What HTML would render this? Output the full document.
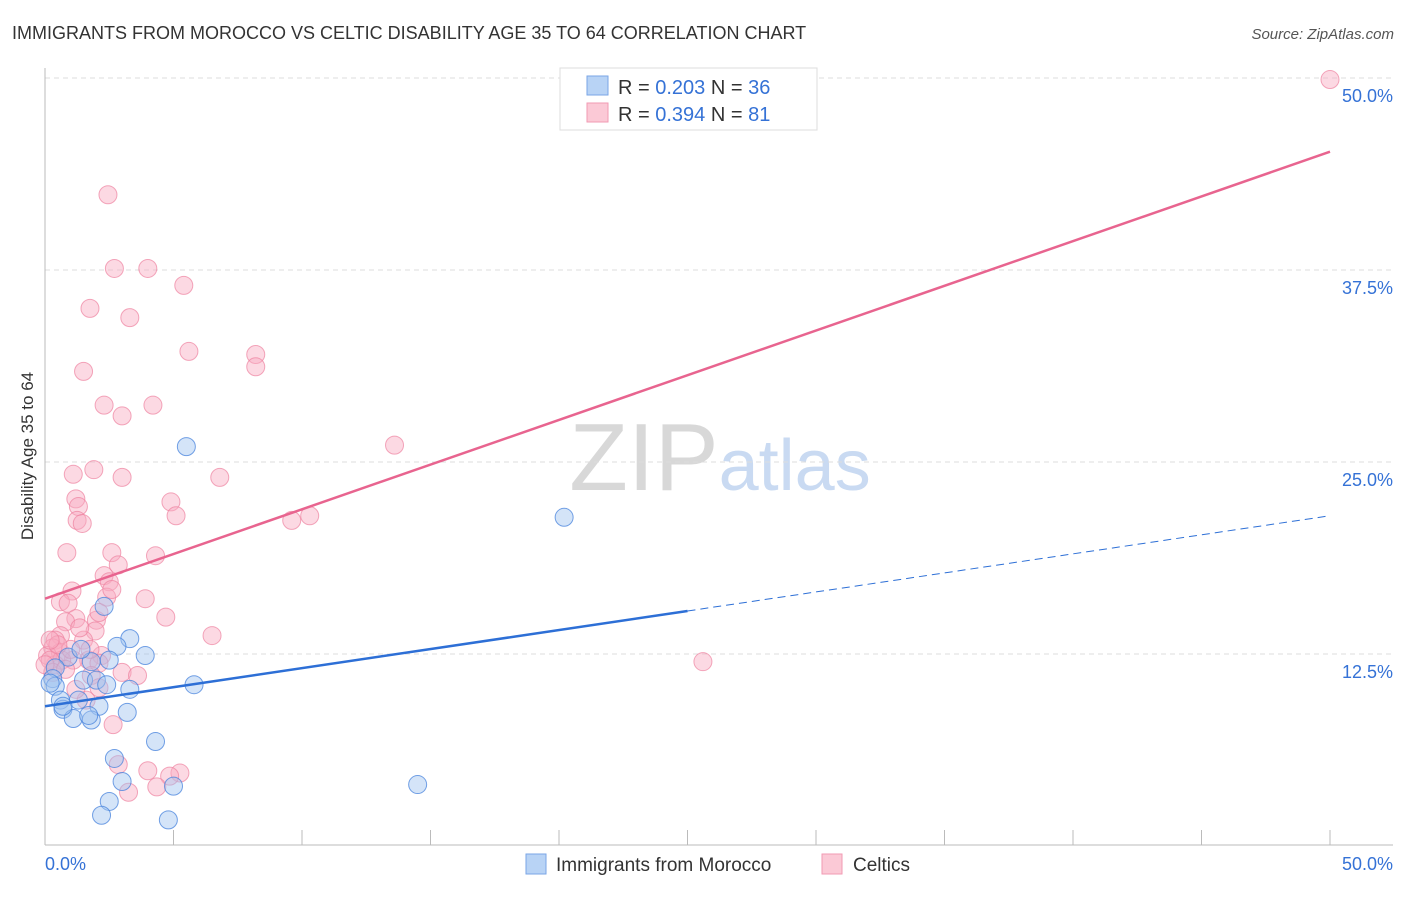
<!DOCTYPE html>
<html><head><meta charset="utf-8"><style>
body{margin:0;background:#fff;font-family:"Liberation Sans",sans-serif;}
svg text{font-family:"Liberation Sans",sans-serif;}
</style></head><body>
<svg id="chart" width="1406" height="892" xmlns="http://www.w3.org/2000/svg">
<text x="12" y="39" font-size="18" fill="#333">IMMIGRANTS FROM MOROCCO VS CELTIC DISABILITY AGE 35 TO 64 CORRELATION CHART</text>
<text x="1394" y="39" font-size="15" fill="#555" text-anchor="end" font-style="italic">Source: ZipAtlas.com</text>
<text transform="translate(33,456) rotate(-90)" font-size="17" fill="#333" text-anchor="middle">Disability Age 35 to 64</text>
<text x="720" y="490" font-size="96" text-anchor="middle" fill="#ddd" font-family="Liberation Serif"><tspan fill="#d8d8d8">ZIP</tspan><tspan fill="#c9daf2" font-family="Liberation Sans" font-size="72">atlas</tspan></text>
<g id="grid"></g><g id="axes"></g><g id="pts"></g><g id="lines"></g>
<g>
<rect x="560" y="68" width="257" height="62" fill="#fff" stroke="#ddd"/>
<rect x="587" y="76" width="21" height="19" fill="#b8d3f5" stroke="#7aa6e6"/>
<rect x="587" y="103" width="21" height="19" fill="#fbc9d6" stroke="#f29ab3"/>
<text x="618" y="94" font-size="20" fill="#333">R = <tspan fill="#3572d6">0.203</tspan>   N = <tspan fill="#3572d6">36</tspan></text>
<text x="618" y="121" font-size="20" fill="#333">R = <tspan fill="#3572d6">0.394</tspan>   N = <tspan fill="#3572d6"> 81</tspan></text>
</g>
<g>
<rect x="526" y="854" width="20" height="20" fill="#b8d3f5" stroke="#7aa6e6"/>
<text x="556" y="871" font-size="19" fill="#333">Immigrants from Morocco</text>
<rect x="822" y="854" width="20" height="20" fill="#fbc9d6" stroke="#f29ab3"/>
<text x="853" y="871" font-size="19" fill="#333">Celtics</text>
</g>
</svg>
<script>
const yTicks=[12.5,25,37.5,50];
const yTickLabels=["12.5%","25.0%","37.5%","50.0%"];
const xTickLabels=["0.0%","50.0%"];
const blueX=[5.5,20.2,2.3,3.3,0.9,1.8,2.8,0.4,0.3,0.4,1.5,2.0,2.4,5.8,0.6,1.3,2.1,0.7,1.1,1.8,3.2,4.3,2.7,3.0,5.0,14.5,2.5,2.2,4.8,0.2,3.9,2.5,3.3,1.7,0.7,1.4];
const blueY=[26.0,21.4,15.6,13.5,12.3,12.0,13.0,11.6,10.9,10.4,10.8,10.8,10.5,10.5,9.5,9.5,9.1,8.9,8.3,8.2,8.7,6.8,5.7,4.2,3.9,4.0,2.9,2.0,1.7,10.6,12.4,12.1,10.2,8.5,9.1,12.8];
const pinkX=[50.0,2.45,2.7,4.0,5.4,1.75,3.3,5.6,8.2,8.2,1.5,2.3,4.2,3.0,13.6,1.9,1.1,3.0,6.8,1.2,4.9,1.3,5.1,1.25,1.45,10.3,9.6,0.85,2.6,4.3,2.85,2.3,2.5,1.05,3.9,2.4,0.6,0.9,4.7,2.0,1.2,0.8,6.5,1.95,0.6,0.4,1.5,0.3,0.6,2.2,1.7,2.1,0.4,1.1,0.1,0.65,25.6,3.0,3.6,1.8,2.1,1.6,2.65,2.85,4.0,5.25,4.85,4.35,3.25,0.2,0.3,1.0,0.5,0.2,1.35,0.8,1.75,2.1,2.6,1.2,0.0];
const pinkY=[49.9,42.4,37.6,37.6,36.5,35.0,34.4,32.2,32.0,31.2,30.9,28.7,28.7,28.0,26.1,24.5,24.2,24.0,24.0,22.6,22.4,22.1,21.5,21.2,21.0,21.5,21.2,19.1,19.1,18.9,18.3,17.6,17.2,16.6,16.1,16.2,15.9,15.8,14.9,14.7,14.8,14.6,13.7,14.0,13.7,13.4,13.4,12.9,12.6,12.4,12.1,11.9,11.8,12.1,12.4,12.1,12.0,11.3,11.1,11.1,10.3,9.5,7.9,5.3,4.9,4.75,4.55,3.85,3.5,12.1,11.3,12.8,13.1,13.4,14.2,11.5,12.8,15.2,16.7,10.2,11.8];
const pinkTrend=[16.1,45.2];
const blueTrend=[9.1,21.5];
const blueSolidEnd=25;
const NS="http://www.w3.org/2000/svg";
const sx=v=>45+v/50*1285, sy=v=>846-v/50*768;
function mk(t,a,p){const e=document.createElementNS(NS,t);for(const k in a)e.setAttribute(k,a[k]);p.appendChild(e);return e;}
const grid=document.getElementById('grid'),axes=document.getElementById('axes'),pts=document.getElementById('pts'),lines=document.getElementById('lines');
yTicks.forEach((v,i)=>{
 const l=mk('line',{x1:45,x2:1393,y1:sy(v),y2:sy(v),stroke:'#ddd','stroke-dasharray':'5,4'},grid);
 
 
 const t=mk('text',{x:1393,y:sy(v)+24,'font-size':18,fill:'#3572d6','text-anchor':'end'},axes);
 t.textContent=yTickLabels[i];
 
 
});
const ax=mk('line',{x1:45,x2:1393,y1:845,y2:845,stroke:'#bbb'},axes);


const ay=mk('line',{x1:45,x2:45,y1:68,y2:845,stroke:'#bbb'},axes);


for(let i=1;i<=10;i++){const x=sx(i*5);const t=mk('line',{x1:x,x2:x,y1:830,y2:845,stroke:'#bbb'},axes);
 
 }
[[0,'start',45],[50,'end',1393]].forEach((d,i)=>{const t=mk('text',{x:d[2],y:870,'font-size':18,fill:'#3572d6','text-anchor':d[1]},axes);t.textContent=xTickLabels[i];
 
 });
pinkX.forEach((x,i)=>{const c=mk('circle',{cx:sx(x),cy:sy(pinkY[i]),r:9,fill:'rgba(248,170,192,0.45)',stroke:'rgba(238,130,160,0.7)'},pts);
 
 });
blueX.forEach((x,i)=>{const c=mk('circle',{cx:sx(x),cy:sy(blueY[i]),r:9,fill:'rgba(160,196,240,0.45)',stroke:'rgba(70,130,220,0.75)'},pts);
 
 });
const pl=mk('line',{x1:sx(0),y1:sy(pinkTrend[0]),x2:sx(50),y2:sy(pinkTrend[1]),stroke:'#e8648f','stroke-width':2.5},lines);


const bAt=v=>blueTrend[0]+(blueTrend[1]-blueTrend[0])*v/50;
const bl=mk('line',{x1:sx(0),y1:sy(bAt(0)),x2:sx(blueSolidEnd),y2:sy(bAt(blueSolidEnd)),stroke:'#2d6fd6','stroke-width':2.5},lines);


const bd=mk('line',{x1:sx(blueSolidEnd),y1:sy(bAt(blueSolidEnd)),x2:sx(50),y2:sy(bAt(50)),stroke:'#2d6fd6','stroke-width':1,'stroke-dasharray':'8,5'},lines);


</script>
</body></html>
